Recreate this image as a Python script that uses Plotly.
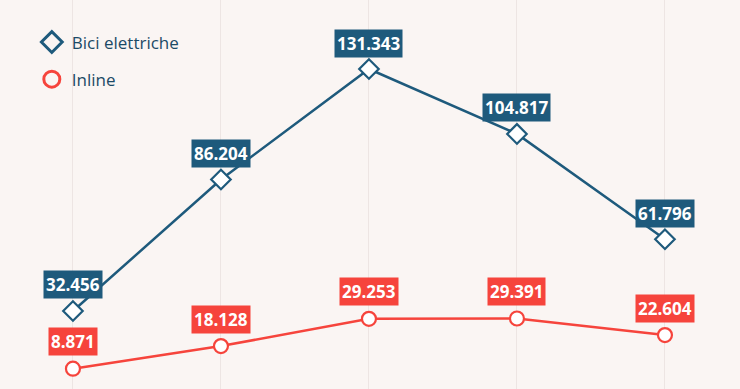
import plotly.graph_objects as go

categories = ["1", "2", "3", "4", "5"]
bici = [32456, 86204, 131343, 104817, 61796]
inline = [8871, 18128, 29253, 29391, 22604]
bici_labels = ["32.456", "86.204", "131.343", "104.817", "61.796"]
inline_labels = ["8.871", "18.128", "29.253", "29.391", "22.604"]

BLUE = "#1e5a7c"
RED = "#f6443c"
BG = "#faf5f3"
FONT = "Open Sans"

xs = list(range(len(categories)))
fig = go.Figure()

fig.add_trace(go.Scatter(x=xs, y=bici, mode="lines+markers", showlegend=False,
                         line=dict(color=BLUE, width=2.5),
                         marker=dict(symbol="diamond", size=15, color="white",
                                     line=dict(color=BLUE, width=2.2))))
fig.add_trace(go.Scatter(x=xs, y=inline, mode="lines+markers", showlegend=False,
                         line=dict(color=RED, width=2.5),
                         marker=dict(symbol="circle", size=14, color="white",
                                     line=dict(color=RED, width=2.2))))
# legend-only entries
fig.add_trace(go.Scatter(x=[None], y=[None], mode="markers", name="Bici elettriche",
                         legendgroup="a",
                         marker=dict(symbol="diamond", size=18, color=BG,
                                     line=dict(color=BLUE, width=3))))
fig.add_trace(go.Scatter(x=[None], y=[None], mode="markers", name="Inline",
                         legendgroup="b",
                         marker=dict(symbol="circle", size=16, color=BG,
                                     line=dict(color=RED, width=3))))

for x, y, t in zip(xs, bici, bici_labels):
    fig.add_annotation(x=x, y=y, text="<b>%s</b>" % t, showarrow=False, yshift=26,
                       bgcolor=BLUE, font=dict(family=FONT, size=17, color="white"),
                       borderpad=2)
for x, y, t in zip(xs, inline, inline_labels):
    fig.add_annotation(x=x, y=y, text="<b>%s</b>" % t, showarrow=False, yshift=27,
                       bgcolor=RED, font=dict(family=FONT, size=17, color="white"),
                       borderpad=2)

fig.update_layout(
    width=740, height=389,
    margin=dict(l=0, r=0, t=0, b=0),
    paper_bgcolor=BG, plot_bgcolor=BG,
    showlegend=True,
    legend=dict(x=0.043, y=0.937, xanchor="left", yanchor="top",
                bgcolor="rgba(0,0,0,0)", traceorder="grouped", tracegroupgap=12,
                font=dict(family=FONT, size=17, color="#1b4a66")),
    xaxis=dict(range=[-0.493, 4.507], showgrid=True, gridcolor="#ede5e3", gridwidth=1,
               zeroline=False, showticklabels=False, tickvals=xs, fixedrange=True),
    yaxis=dict(range=[580, 159540], showgrid=False, zeroline=False,
               showticklabels=False, fixedrange=True),
)

fig.write_html("out.html")
